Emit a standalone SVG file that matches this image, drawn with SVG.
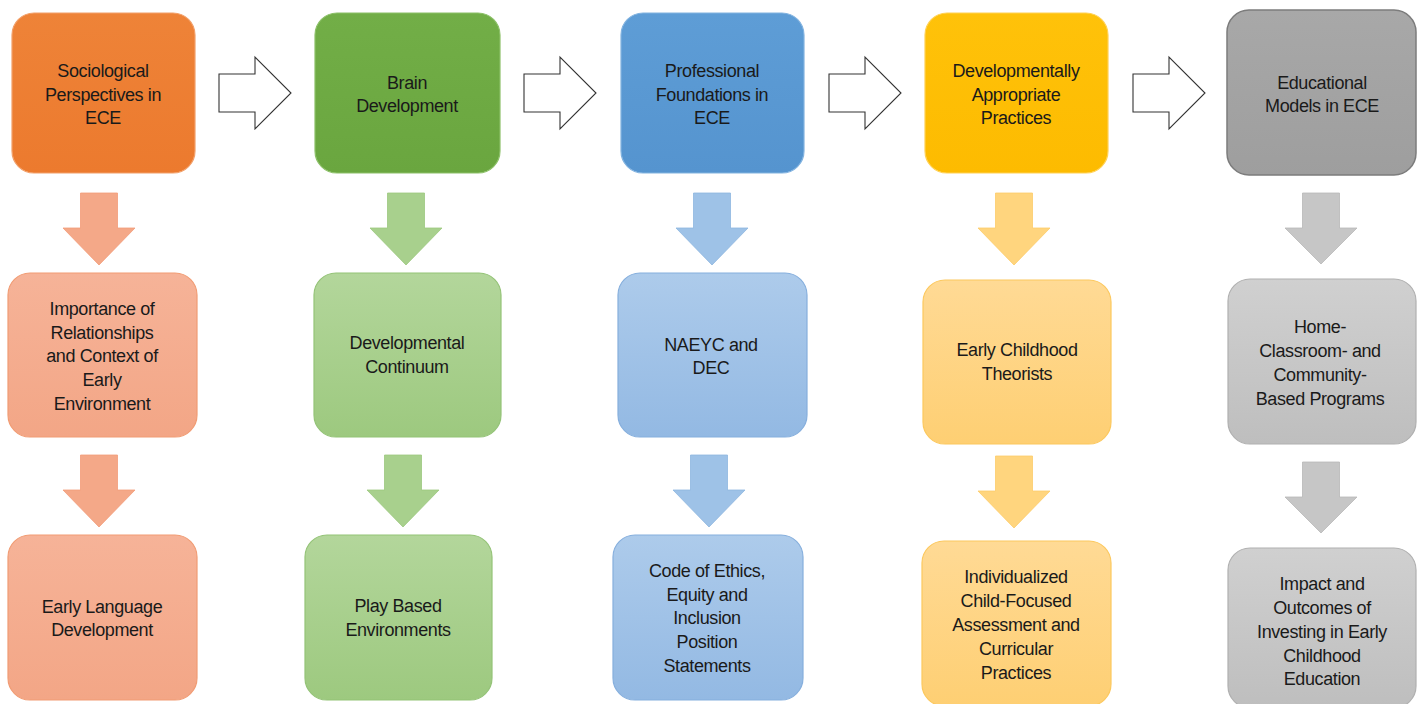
<svg xmlns="http://www.w3.org/2000/svg" width="1426" height="704" viewBox="0 0 1426 704">
<defs>
<linearGradient id="gO" x1="0" y1="0" x2="0" y2="1"><stop offset="0" stop-color="#EE8338"/><stop offset="1" stop-color="#EC7A2E"/></linearGradient>
<linearGradient id="gOl" x1="0" y1="0" x2="0" y2="1"><stop offset="0" stop-color="#F6B398"/><stop offset="1" stop-color="#F3A686"/></linearGradient>
<linearGradient id="gG" x1="0" y1="0" x2="0" y2="1"><stop offset="0" stop-color="#72AE47"/><stop offset="1" stop-color="#6AA63F"/></linearGradient>
<linearGradient id="gGl" x1="0" y1="0" x2="0" y2="1"><stop offset="0" stop-color="#B3D69B"/><stop offset="1" stop-color="#9DC97F"/></linearGradient>
<linearGradient id="gB" x1="0" y1="0" x2="0" y2="1"><stop offset="0" stop-color="#5E9DD6"/><stop offset="1" stop-color="#5594CF"/></linearGradient>
<linearGradient id="gBl" x1="0" y1="0" x2="0" y2="1"><stop offset="0" stop-color="#ADCBEB"/><stop offset="1" stop-color="#93B9E3"/></linearGradient>
<linearGradient id="gY" x1="0" y1="0" x2="0" y2="1"><stop offset="0" stop-color="#FFC20A"/><stop offset="1" stop-color="#FDBB00"/></linearGradient>
<linearGradient id="gYl" x1="0" y1="0" x2="0" y2="1"><stop offset="0" stop-color="#FFDA95"/><stop offset="1" stop-color="#FECF73"/></linearGradient>
<linearGradient id="gK" x1="0" y1="0" x2="0" y2="1"><stop offset="0" stop-color="#A8A8A8"/><stop offset="1" stop-color="#9E9E9E"/></linearGradient>
<linearGradient id="gKl" x1="0" y1="0" x2="0" y2="1"><stop offset="0" stop-color="#D0D0D0"/><stop offset="1" stop-color="#BEBEBE"/></linearGradient>
</defs>
<style>
text{font-family:"Liberation Sans",Arial,sans-serif;font-size:18px;letter-spacing:-0.4px;fill:#1a1a1a;text-anchor:middle}
.o{fill:url(#gO);stroke:#F2A06A;stroke-width:1.2}
.ol{fill:url(#gOl);stroke:#F19C74;stroke-width:1.2}
.g{fill:url(#gG);stroke:#8CC068;stroke-width:1.2}
.gl{fill:url(#gGl);stroke:#94C377;stroke-width:1.2}
.b{fill:url(#gB);stroke:#82B3E0;stroke-width:1.2}
.bl{fill:url(#gBl);stroke:#86AFDD;stroke-width:1.2}
.y{fill:url(#gY);stroke:#FFD155;stroke-width:1.2}
.yl{fill:url(#gYl);stroke:#FCC85E;stroke-width:1.2}
.k{fill:url(#gK);stroke:#7C7C7C;stroke-width:1.5}
.kl{fill:url(#gKl);stroke:#B0B0B0;stroke-width:1.2}
.ra{fill:#ffffff;stroke:#333333;stroke-width:1.1}
.dO{fill:#F4A888;stroke:#F29C78;stroke-width:0.8}
.dG{fill:#A8D08D;stroke:#9CC87F;stroke-width:0.8}
.dB{fill:#9EC2E7;stroke:#8EB6E0;stroke-width:0.8}
.dY{fill:#FFD57E;stroke:#FCCB6A;stroke-width:0.8}
.dK{fill:#C6C6C6;stroke:#B8B8B8;stroke-width:0.8}
</style>
<g id="connectors">
<path class="ra" d="M219,74 H255 V57 L291,93 L255,129 V112 H219 Z"/>
<path class="ra" d="M524,74 H560 V57 L596,93 L560,129 V112 H524 Z"/>
<path class="ra" d="M829,74 H865 V57 L901,93 L865,129 V112 H829 Z"/>
<path class="ra" d="M1133,74 H1169 V57 L1205,93 L1169,129 V112 H1133 Z"/>
<path class="dO" d="M80.5,193 h37 v35 h17.5 L99,265 L63,228 h17.5 Z"/>
<path class="dO" d="M80.5,455 h37 v35 h17.5 L99,527 L63,490 h17.5 Z"/>
<path class="dG" d="M387.5,193 h37 v35 h17.5 L406,265 L370,228 h17.5 Z"/>
<path class="dG" d="M384.5,455 h37 v35 h17.5 L403,527 L367,490 h17.5 Z"/>
<path class="dB" d="M693.5,193 h37 v35 h17.5 L712,265 L676,228 h17.5 Z"/>
<path class="dB" d="M690.5,455 h37 v35 h17.5 L709,527 L673,490 h17.5 Z"/>
<path class="dY" d="M995.5,193 h37 v35 h17.5 L1014,265 L978,228 h17.5 Z"/>
<path class="dY" d="M995.5,456 h37 v35 h17.5 L1014,528 L978,491 h17.5 Z"/>
<path class="dK" d="M1302.5,193 h37 v35 h17.5 L1321,264 L1285,228 h17.5 Z"/>
<path class="dK" d="M1302.5,462 h37 v35 h17.5 L1321,533 L1285,497 h17.5 Z"/>
</g>
<g id="n1"><rect class="o" x="12" y="13" width="183" height="160" rx="22"/>
<text x="103" y="77">Sociological</text><text x="103" y="100.5">Perspectives in</text><text x="103" y="124">ECE</text></g>
<g id="n2"><rect class="g" x="315" y="13" width="185" height="160" rx="22"/>
<text x="407" y="89">Brain</text><text x="407" y="112">Development</text></g>
<g id="n3"><rect class="b" x="621" y="13" width="183" height="160" rx="22"/>
<text x="712" y="77">Professional</text><text x="712" y="100.5">Foundations in</text><text x="712" y="124">ECE</text></g>
<g id="n4"><rect class="y" x="925" y="13" width="183" height="160" rx="22"/>
<text x="1016" y="77">Developmentally</text><text x="1016" y="100.5">Appropriate</text><text x="1016" y="124">Practices</text></g>
<g id="n5"><rect class="k" x="1227" y="10" width="189" height="165" rx="22"/>
<text x="1322" y="89">Educational</text><text x="1322" y="112">Models in ECE</text></g>
<g id="n6"><rect class="ol" x="8" y="273" width="189" height="164" rx="22"/>
<text x="102" y="315">Importance of</text><text x="102" y="338.5">Relationships</text><text x="102" y="362">and Context of</text><text x="102" y="386">Early</text><text x="102" y="410">Environment</text></g>
<g id="n7"><rect class="gl" x="314" y="273" width="187" height="164" rx="22"/>
<text x="407" y="349">Developmental</text><text x="407" y="373">Continuum</text></g>
<g id="n8"><rect class="bl" x="618" y="273" width="189" height="164" rx="22"/>
<text x="711" y="351">NAEYC and</text><text x="711" y="374">DEC</text></g>
<g id="n9"><rect class="yl" x="923" y="280" width="188" height="164" rx="22"/>
<text x="1017" y="356">Early Childhood</text><text x="1017" y="380">Theorists</text></g>
<g id="n10"><rect class="kl" x="1228" y="279" width="188" height="165" rx="22"/>
<text x="1320" y="333">Home-</text><text x="1320" y="357">Classroom- and</text><text x="1320" y="381">Community-</text><text x="1320" y="405">Based Programs</text></g>
<g id="n11"><rect class="ol" x="8" y="535" width="189" height="165" rx="22"/>
<text x="102" y="613">Early Language</text><text x="102" y="636">Development</text></g>
<g id="n12"><rect class="gl" x="305" y="535" width="187" height="165" rx="22"/>
<text x="398" y="612">Play Based</text><text x="398" y="636">Environments</text></g>
<g id="n13"><rect class="bl" x="613" y="535" width="190" height="165" rx="22"/>
<text x="707" y="577">Code of Ethics,</text><text x="707" y="600.5">Equity and</text><text x="707" y="624">Inclusion</text><text x="707" y="648">Position</text><text x="707" y="672">Statements</text></g>
<g id="n14"><rect class="yl" x="922" y="541" width="189" height="165" rx="22"/>
<text x="1016" y="583">Individualized</text><text x="1016" y="607">Child-Focused</text><text x="1016" y="631">Assessment and</text><text x="1016" y="655">Curricular</text><text x="1016" y="679">Practices</text></g>
<g id="n15"><rect class="kl" x="1228" y="548" width="188" height="160" rx="22"/>
<text x="1322" y="590">Impact and</text><text x="1322" y="614">Outcomes of</text><text x="1322" y="638">Investing in Early</text><text x="1322" y="662">Childhood</text><text x="1322" y="685">Education</text></g>
</svg>
